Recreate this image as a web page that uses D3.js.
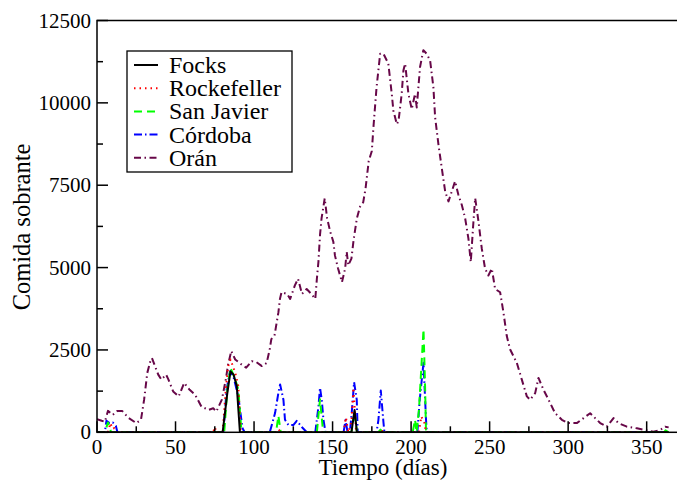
<!DOCTYPE html>
<html><head><meta charset="utf-8">
<script src="https://cdn.jsdelivr.net/npm/d3@7"></script>
<style>
html,body{margin:0;padding:0;background:#fff;}
svg{display:block;}
text{font-family:"Liberation Serif","Times New Roman",serif;fill:#000;}
</style></head>
<body>
<svg id="chart" width="677" height="485"></svg>
<script>
// ---- data (day, comida sobrante) ----
const seriesNames = ["Focks", "Rockefeller", "San Javier", "Córdoba", "Orán"];
const xTicks = [0, 50, 100, 150, 200, 250, 300, 350];
const xMinorTicks = [25, 75, 125, 175, 225, 275, 325];
const yTicks = [0, 2500, 5000, 7500, 10000, 12500];
const yMinorTicks = [1250, 3750, 6250, 8750, 11250];

const focks = [[0,0],[80,0],[83,1200],[85,1850],[87,1750],[89,1400],[91,0],[162,0],[164,680],[165.5,0],[364,0]];
const rockefeller = [[0,0],[7,0],[8.5,280],[10,100],[11,130],[12,0],[74,0],[75,160],[76,0],[80,0],[82,1300],[83.5,2000],[85,2210],[88,1810],[90,1400],[91.5,0],[114,0],[115.5,100],[117,0],[157,0],[158.5,450],[160,0],[162,300],[163.3,1350],[165,0],[180,0],[181,100],[182,0],[205,0],[206.5,480],[208.5,280],[209.5,0],[364,0]];
const sanJavier = [[0,0],[5,0],[7,300],[9,0],[81,0],[83,1300],[85,1960],[88,1600],[90,1300],[92,0],[114,0],[115.5,500],[117,0],[140,0],[142,1000],[144,0],[162,0],[164,630],[165.5,0],[179,0],[180.5,80],[182,0],[201,0],[202.5,380],[203.5,0],[205,680],[207.9,3130],[208.9,1400],[209.5,0],[361,0],[362,60],[364,0]];
const cordoba = [[0,0],[5,0],[6,350],[8,280],[10,300],[12,200],[13,0],[80.5,0],[82.5,1290],[84.7,1850],[86.8,1700],[90,1090],[92.6,130],[94,0],[110,0],[113.4,590],[115.5,1200],[116.6,1450],[118.7,990],[119.7,380],[121.9,220],[125,220],[127.2,350],[130.4,160],[133.6,0],[139,0],[141,780],[142,1350],[143.1,990],[144.2,380],[145.5,0],[157,0],[158.3,380],[159.5,0],[161,0],[162.2,590],[163.7,1520],[165.4,990],[166,0],[178,0],[179.2,380],[180.7,1270],[182.4,300],[183,0],[204,0],[205.5,990],[207.9,2110],[209.5,380],[210,0],[364,0]];
const oran = [[0,400],[3,350],[5,320],[7,650],[10,530],[13,650],[16,650],[20,440],[25,280],[28,380],[30,990],[32,1800],[34,2160],[35,2250],[37,2000],[39,1750],[41,1600],[44,1750],[45.5,1600],[48.5,1240],[52,1090],[55.5,1500],[59,1290],[62.5,1140],[66.5,780],[71,680],[74,730],[76,630],[79.5,990],[82,1600],[83.5,2060],[85.5,2470],[88,2210],[92,2060],[95,1960],[98.5,2160],[101.5,2130],[105,2010],[108,2100],[110,2520],[111,2830],[113,2930],[115.5,3640],[116.5,4050],[117.5,4250],[121,4200],[123,4050],[126,4460],[128,4660],[130.5,4200],[133.5,4350],[136.5,4200],[139,4050],[140,4660],[141,5180],[142,5990],[143,6500],[145,7100],[146.5,6500],[148.5,6090],[150.5,5780],[151.5,5370],[153.5,4970],[156,4560],[158,4970],[159,5480],[160,5070],[162,5270],[163.5,5880],[165.5,6500],[167.5,6850],[169.5,6980],[171,7400],[173,8230],[175,8540],[176,9250],[178,10470],[180.3,11490],[182.4,11490],[185.5,11190],[187.7,10270],[188.7,9770],[190.9,9350],[192,9450],[194,10270],[195.1,10980],[196.2,11190],[198.3,10270],[200.4,9810],[202.5,10270],[203.6,9860],[205.7,11090],[207.8,11600],[209.9,11490],[212.1,11290],[214.2,10470],[215.3,9560],[217.4,8740],[219.5,8030],[221.7,7310],[223.8,7010],[225.9,7310],[228,7620],[230.1,7210],[232.3,6900],[234.4,6500],[236.5,5880],[238,5170],[239.7,6400],[240.8,7110],[242.9,6400],[245,5580],[247.1,4970],[249.2,4760],[251.4,4970],[253.5,4350],[256.7,4250],[258.8,3640],[260.9,2930],[263,2520],[267.3,2110],[270.5,1600],[273.7,1090],[275.8,990],[279,1190],[281.1,1650],[284.3,1290],[287.5,990],[291.7,580],[296,380],[300,280],[305.5,280],[309.8,430],[314,580],[317.2,430],[320.4,280],[324.6,170],[328.9,430],[332,280],[337.4,170],[343.8,120],[349,70],[354.3,20],[358.6,70],[361.8,170],[364,150]];

// ---- layout ----
const M = {left: 97, top: 20.5, bottom: 432.3};
const svg = d3.select("#chart");
const x = d3.scaleLinear().domain([0, 370]).range([M.left, M.left + 370 * 1.5705]);
const y = d3.scaleLinear().domain([0, 12500]).range([M.bottom, M.top]);

const styles = [
  {color: "#000000", dash: null, w: 2},
  {color: "#ff0000", dash: "1.5,4", w: 2},
  {color: "#00ff00", dash: "8,5", w: 2},
  {color: "#0000ff", dash: "8,3,1.5,3", w: 2},
  {color: "#670748", dash: "7,3.5,1.5,3.5", w: 2}
];
const seriesData = [focks, rockefeller, sanJavier, cordoba, oran];

svg.append("defs").append("clipPath").attr("id","clip")
  .append("rect").attr("x", M.left).attr("y", M.top).attr("width", x(370)-M.left).attr("height", M.bottom-M.top);

const line = d3.line().x(d => x(d[0])).y(d => y(d[1]));
const plotG = svg.append("g").attr("clip-path","url(#clip)");
[4,3,2,1,0].forEach(i => {
  const s = styles[i];
  plotG.append("path").datum(seriesData[i])
    .attr("d", line).attr("fill","none")
    .attr("stroke", s.color).attr("stroke-width", s.w)
    .attr("stroke-dasharray", s.dash)
    .attr("stroke-linejoin","round");
});

// frame
svg.append("rect").attr("x", M.left).attr("y", M.top)
  .attr("width", x(370)-M.left).attr("height", M.bottom-M.top)
  .attr("fill","none").attr("stroke","#000").attr("stroke-width",1.5);

// ticks (inward)
const tickG = svg.append("g").attr("stroke","#000").attr("stroke-width",1.5);
xTicks.forEach(v => tickG.append("line").attr("x1",x(v)).attr("x2",x(v)).attr("y1",M.bottom).attr("y2",M.bottom-11));
xMinorTicks.forEach(v => tickG.append("line").attr("x1",x(v)).attr("x2",x(v)).attr("y1",M.bottom).attr("y2",M.bottom-6));
yTicks.forEach(v => tickG.append("line").attr("x1",M.left).attr("x2",M.left+11).attr("y1",y(v)).attr("y2",y(v)));
yMinorTicks.forEach(v => tickG.append("line").attr("x1",M.left).attr("x2",M.left+6).attr("y1",y(v)).attr("y2",y(v)));

// tick labels
svg.append("g").selectAll("text").data(xTicks).join("text")
  .attr("x", d => x(d)).attr("y", 454).attr("text-anchor","middle")
  .style("font-size","21px").text(d => d3.format("d")(d));
svg.append("g").selectAll("text").data(yTicks).join("text")
  .attr("x", 91).attr("y", d => y(d) + 7).attr("text-anchor","end")
  .style("font-size","21px").text(d => d3.format("d")(d));

// axis titles
svg.append("text").attr("x", 383).attr("y", 475).attr("text-anchor","middle")
  .style("font-size","23px").text("Tiempo (días)");
svg.append("text").attr("transform","translate(29.5,227) rotate(-90)").attr("text-anchor","middle")
  .style("font-size","24.5px").text("Comida sobrante");

// legend
const lg = svg.append("g");
lg.append("rect").attr("x",127).attr("y",51).attr("width",165).attr("height",121)
  .attr("fill","#fff").attr("stroke","#000").attr("stroke-width",1.3);
seriesNames.forEach((name, i) => {
  const cy = 65 + i * 23.2;
  const s = styles[i];
  lg.append("line").attr("x1",134).attr("x2",158).attr("y1",cy).attr("y2",cy)
    .attr("stroke", s.color).attr("stroke-width", s.w).attr("stroke-dasharray", s.dash);
  lg.append("text").attr("x",169).attr("y",cy+8).style("font-size","24px").text(name);
});
</script>
</body></html>
